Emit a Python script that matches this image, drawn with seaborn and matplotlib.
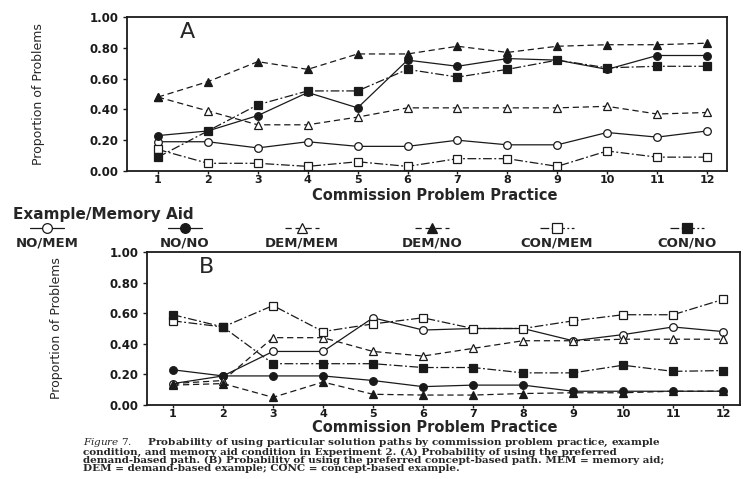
import numpy as np
import pandas as pd
import matplotlib
matplotlib.use('Agg')
import matplotlib.pyplot as plt
from matplotlib import font_manager
from matplotlib.lines import Line2D
import seaborn as sns

sns.set_style('white')
plt.rcParams['font.family'] = ['DejaVu Sans']
plt.rcParams['mathtext.fontset'] = 'dejavuserif'

practice = list(range(1, 13))
conditions = ['NO/MEM', 'NO/NO', 'DEM/MEM', 'DEM/NO', 'CON/MEM', 'CON/NO']

# (A) preferred demand-based path
a_no_mem  = [0.19, 0.19, 0.15, 0.19, 0.16, 0.16, 0.20, 0.17, 0.17, 0.25, 0.22, 0.26]
a_no_no   = [0.23, 0.26, 0.36, 0.51, 0.41, 0.72, 0.68, 0.73, 0.72, 0.66, 0.75, 0.75]
a_dem_mem = [0.48, 0.39, 0.30, 0.30, 0.35, 0.41, 0.41, 0.41, 0.41, 0.42, 0.37, 0.38]
a_dem_no  = [0.48, 0.58, 0.71, 0.66, 0.76, 0.76, 0.81, 0.77, 0.81, 0.82, 0.82, 0.83]
a_con_mem = [0.14, 0.05, 0.05, 0.03, 0.06, 0.03, 0.08, 0.08, 0.03, 0.13, 0.09, 0.09]
a_con_no  = [0.09, 0.26, 0.43, 0.52, 0.52, 0.66, 0.61, 0.66, 0.72, 0.67, 0.68, 0.68]

# (B) preferred concept-based path
b_no_mem  = [0.14, 0.19, 0.35, 0.35, 0.57, 0.49, 0.50, 0.50, 0.42, 0.46, 0.51, 0.48]
b_no_no   = [0.23, 0.19, 0.19, 0.19, 0.16, 0.12, 0.13, 0.13, 0.09, 0.09, 0.09, 0.09]
b_dem_mem = [0.14, 0.16, 0.44, 0.44, 0.35, 0.32, 0.37, 0.42, 0.42, 0.43, 0.43, 0.43]
b_dem_no  = [0.13, 0.14, 0.05, 0.15, 0.07, 0.065, 0.065, 0.075, 0.08, 0.08, 0.09, 0.09]
b_con_mem = [0.55, 0.51, 0.65, 0.48, 0.53, 0.57, 0.50, 0.50, 0.55, 0.59, 0.59, 0.69]
b_con_no  = [0.59, 0.51, 0.27, 0.27, 0.27, 0.245, 0.245, 0.21, 0.21, 0.26, 0.22, 0.225]

yticks = [0.0, 0.2, 0.4, 0.6, 0.8, 1.0]
ytick_labels = ['0.00', '0.20', '0.40', '0.60', '0.80', '1.00']

df_a = pd.DataFrame({'practice': practice * 6,
                     'cond': np.repeat(conditions, 12),
                     'prop': a_no_mem + a_no_no + a_dem_mem + a_dem_no + a_con_mem + a_con_no})
df_b = pd.DataFrame({'practice': practice * 6,
                     'cond': np.repeat(conditions, 12),
                     'prop': b_no_mem + b_no_no + b_dem_mem + b_dem_no + b_con_mem + b_con_no})

ink = '#1a1a1a'
dash = (0, (5, 3))
dashdot = (0, (7, 2, 1.5, 2))
styles = {
    'NO/MEM':  dict(marker='o', markerfacecolor='white', linestyle='-', markersize=5.5),
    'NO/NO':   dict(marker='o', markerfacecolor=ink, linestyle='-', markersize=5.5),
    'DEM/MEM': dict(marker='^', markerfacecolor='white', linestyle=dash, markersize=6),
    'DEM/NO':  dict(marker='^', markerfacecolor=ink, linestyle=dash, markersize=6),
    'CON/MEM': dict(marker='s', markerfacecolor='white', linestyle=dashdot, markersize=6),
    'CON/NO':  dict(marker='s', markerfacecolor=ink, linestyle=dashdot, markersize=6),
}

names = {f.name for f in font_manager.fontManager.ttflist}
narrow = 'Liberation Sans Narrow' if 'Liberation Sans Narrow' in names else 'DejaVu Sans'

W, H = 743, 479
fig = plt.figure(figsize=(W / 100, H / 100), dpi=100)


def px_axes(left, top, right, bottom):
    return fig.add_axes([left / W, 1 - bottom / H, (right - left) / W, (bottom - top) / H])


def draw_panel(ax, df, letter, xlim, ylab_x):
    for c in conditions:
        sub = df[df['cond'] == c]
        sns.lineplot(data=sub, x='practice', y='prop', ax=ax, color=ink, linewidth=0.9,
                     markeredgecolor=ink, markeredgewidth=0.9, errorbar=None, **styles[c])
    ax.set_xlim(*xlim)
    ax.set_ylim(0, 1.0)
    ax.set_xticks(practice)
    ax.set_xticklabels([str(p) for p in practice], fontsize=8, fontweight='bold')
    ax.set_yticks(yticks)
    ax.set_yticklabels(ytick_labels, fontsize=8.5, fontweight='bold')
    ax.tick_params(axis='x', length=2, pad=1)
    ax.tick_params(axis='y', length=3, pad=3)
    ax.tick_params(left=True, bottom=True, width=1, direction='out', colors=ink)
    for s in ax.spines.values():
        s.set_color(ink)
        s.set_linewidth(1.3)
    ax.set_xlabel('')
    ax.set_ylabel('Proportion of Problems', fontsize=9, family=narrow)
    ax.yaxis.set_label_coords(ylab_x, 0.5)
    ax.text(0.10, 0.90, letter, transform=ax.transAxes, fontsize=16, ha='center', va='center')


ax_a = px_axes(127, 17, 727, 171)
draw_panel(ax_a, df_a, 'A', (0.38, 12.4), -0.137)

ax_b = px_axes(147, 252, 740, 405)
draw_panel(ax_b, df_b, 'B', (0.48, 12.34), -0.142)

for y in (195, 427):
    fig.text(435 / W, 1 - y / H, 'Commission Problem Practice', fontsize=10.5, fontweight='bold',
             ha='center', va='center')

# legend block between the panels
fig.text(13 / W, 1 - 214 / H, 'Example/Memory Aid', fontsize=11, fontweight='bold', va='center')
leg_x = [47, 185, 302, 432, 557, 687]
for c, x in zip(conditions, leg_x):
    st = styles[c]
    ln = Line2D([(x - 17) / W, x / W, (x + 17) / W], [1 - 228 / H] * 3, transform=fig.transFigure,
                color=ink, linewidth=0.9, linestyle=st['linestyle'], marker=st['marker'],
                markevery=[1], markersize=st['markersize'] + 1.5, markerfacecolor=st['markerfacecolor'],
                markeredgecolor=ink, markeredgewidth=0.9)
    fig.lines.append(ln)
    fig.text(x / W, 1 - 243 / H, c, fontsize=9.5, fontweight='bold', ha='center', va='center')

caption = '\n'.join([
    r'$\it{Figure\ 7.}$    Probability of using particular solution paths by commission problem practice, example',
    'condition, and memory aid condition in Experiment 2. (A) Probability of using the preferred',
    'demand-based path. (B) Probability of using the preferred concept-based path. MEM = memory aid;',
    'DEM = demand-based example; CONC = concept-based example.',
])
fig.text(83 / W, 1 - 437 / H, caption, fontsize=7.5, fontweight='bold', family='DejaVu Serif',
         va='top', linespacing=0.84)

fig.savefig('out.png', dpi=100)
